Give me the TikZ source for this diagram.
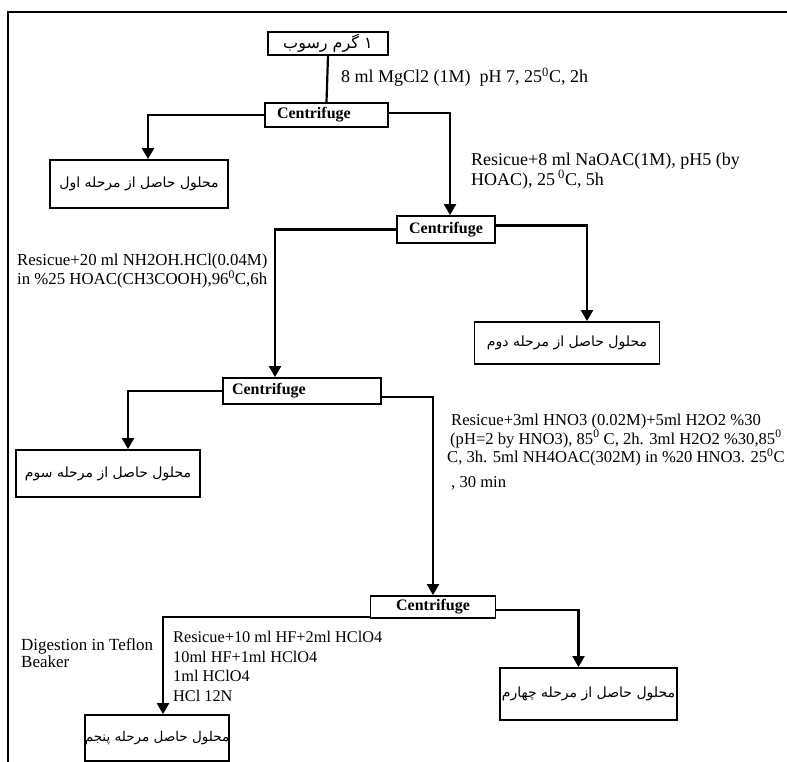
\documentclass[tikz,border=0pt]{standalone}
\usepackage{fontspec}
\setmainfont{Liberation Serif}
\newfontfamily\fa[Script=Arabic]{DejaVu Sans}
\TeXXeTstate=1
\usetikzlibrary{arrows.meta}
\newcommand{\dg}{\textsuperscript{0}}
\begin{document}
\begin{tikzpicture}[x=1pt,y=-1pt,
  box/.style={draw,line width=1.8pt,inner sep=0pt,font=\fa\fontsize{14}{16}\selectfont},
  cbox/.style={draw,line width=1.8pt,inner sep=0pt,anchor=center,font=\bfseries\fontsize{16}{18}\selectfont},
  link/.style={line width=2.2pt},
  arr/.style={line width=2.2pt,-{Triangle[length=11pt,width=12pt]}},
  lab/.style={inner sep=0pt,align=left,font=\fontsize{18}{17.5}\selectfont}]
\useasboundingbox (0,0) rectangle (787,762);
% frame
\draw[line width=1.8pt] (8,762) -- (8,12) -- (787,12);
% boxes
\node[box,minimum width=120pt,minimum height=23pt,font=\fa\fontsize{16}{18}\selectfont] (top) at (328,43.5) {\beginR ۱ گرم رسوب\endR};
\node[cbox,minimum width=123pt,minimum height=24pt,text width=99pt,align=left] (c1) at (326.5,115) {Centrifuge};
\node[box,minimum width=178pt,minimum height=48pt] (b1) at (139,184) {\beginR محلول حاصل از مرحله اول\endR};
\node[cbox,minimum width=98pt,minimum height=27pt] (c2) at (446,229.5) {Centrifuge};
\node[box,minimum width=185pt,minimum height=42pt] (b2) at (567,343) {\beginR محلول حاصل از مرحله دوم\endR};
\node[cbox,minimum width=158pt,minimum height=26pt,text width=140pt,align=left] (c3) at (302,391) {Centrifuge};
\node[box,minimum width=184pt,minimum height=47pt] (b3) at (108,473.5) {\beginR محلول حاصل از مرحله سوم\endR};
\node[cbox,minimum width=125pt,minimum height=22pt] (c4) at (433,607) {Centrifuge};
\node[box,minimum width=177pt,minimum height=52pt] (b4) at (588.5,694) {\beginR محلول حاصل از مرحله چهارم\endR};
\node[box,minimum width=138pt,minimum height=46pt,font=\fa\fontsize{13.5}{16}\selectfont] (b5) at (157,738) {\beginR محلول حاصل مرحله پنجم\endR};
% connectors
\draw[link] (top.south) -- (c1.north);
\draw[arr] (c1.west) -| ([xshift=9pt]b1.north);
\draw[arr] ([yshift=2pt]c1.east) -| ([xshift=4pt]c2.north);
\draw[arr] (c2.west) -| ([xshift=-27pt]c3.north);
\draw[arr] ([yshift=4pt]c2.east) -| ([xshift=20pt]b2.north);
\draw[arr] (c3.west) -| ([xshift=20pt]b3.north);
\draw[arr] ([yshift=-6pt]c3.east) -| (c4.north);
\draw[arr] ([yshift=-10pt]c4.west) -| ([xshift=6pt]b5.north);
\draw[arr] ([yshift=-3pt]c4.east) -| ([xshift=-10pt]b4.north);
% labels
\node[lab,anchor=west] (l1) at (341,77) {8 ml MgCl2 (1M)\ \ pH 7, 25\dg C, 2h};
\node[lab,anchor=north west] (l2) at (471,153) {Resicue+8 ml NaOAC(1M), pH5 (by\\HOAC), 25\,\dg C, 5h};
\node[lab,anchor=north west,font=\fontsize{16.8}{18.5}\selectfont] (l3) at (17,254) {Resicue+20 ml NH2OH.HCl(0.04M)\\in \%25 HOAC(CH3COOH),96\dg C,6h};
\node[lab,anchor=north west,font=\fontsize{16.6}{17.5}\selectfont] (l4) at (447,414) {\hspace{4pt}Resicue+3ml HNO3 (0.02M)+5ml H2O2 \%30\\\hspace{3pt}(pH=2 by HNO3), 85\dg\ C, 2h. 3ml H2O2 \%30,85\dg\\C, 3h. 5ml NH4OAC(302M) in \%20 HNO3. 25\dg C\\[7pt]\hspace{4pt}, 30 min};
\node[lab,anchor=north west,font=\fontsize{17}{17}\selectfont] (l5) at (21,638) {Digestion in Teflon\\Beaker};
\node[lab,anchor=north west,font=\fontsize{16.3}{19.7}\selectfont] (l6) at (173,631) {Resicue+10 ml HF+2ml HClO4\\10ml HF+1ml HClO4\\1ml HClO4\\HCl 12N};
\end{tikzpicture}
\end{document}
